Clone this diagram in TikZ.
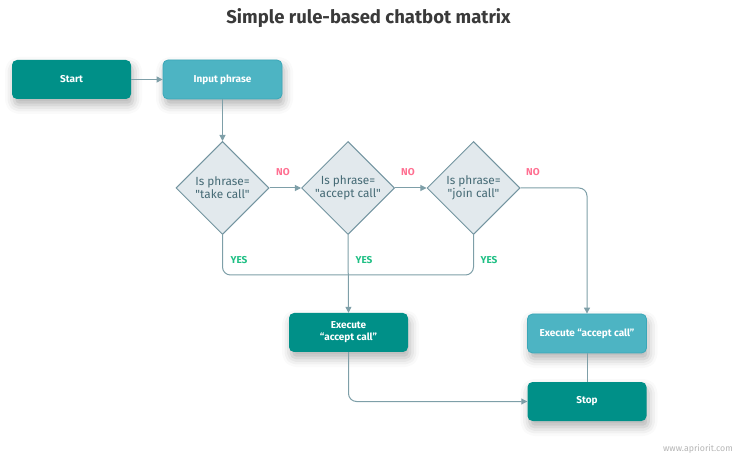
\documentclass[tikz,border=0pt]{standalone}
\usepackage{fontspec}
\setmainfont{Fira Sans}[Ligatures=TeXOff]
\usetikzlibrary{arrows.meta,shapes.geometric,shadows.blur}

\definecolor{tealdark}{HTML}{009088}
\definecolor{teallight}{HTML}{4DB4C3}
\definecolor{teallightedge}{HTML}{3AA7B8}
\definecolor{glow}{HTML}{2C9FB0}
\definecolor{wire}{HTML}{7E9FA8}
\definecolor{decfill}{HTML}{E2E9ED}
\definecolor{decedge}{HTML}{7394A0}
\definecolor{slate}{HTML}{456A75}
\definecolor{nored}{HTML}{FF6F91}
\definecolor{yesgreen}{HTML}{1FBF84}
\definecolor{titlegray}{HTML}{3A3A3A}
\definecolor{footgray}{HTML}{B5B5B5}

\tikzset{
  box/.style={rectangle, rounded corners=5pt, minimum width=119pt, minimum height=39pt,
    inner sep=2pt, align=center, text=white, font=\fontsize{10}{12}\selectfont\bfseries,
    blur shadow={shadow xshift=2pt, shadow yshift=-6pt, shadow blur radius=9pt,
      shadow opacity=30, fill=glow}},
  darkbox/.style={box, fill=tealdark},
  lightbox/.style={box, fill=teallight, draw=teallightedge, line width=0.8pt},
  decision/.style={diamond, aspect=1, minimum width=93pt, minimum height=93pt, inner sep=0pt,
    fill=decfill, draw=decedge, line width=1pt, align=center, text=slate,
    font=\fontsize{11.8}{13}\selectfont},
  wireline/.style={draw=wire, line width=1pt, rounded corners=8pt},
  arrowline/.style={wireline, -{Triangle[length=6pt,width=6pt]}},
  nolab/.style={text=nored, font=\fontsize{10}{12}\selectfont\bfseries},
  yeslab/.style={text=yesgreen, font=\fontsize{10}{12}\selectfont\bfseries},
}

\begin{document}
\begin{tikzpicture}[x=1pt, y=-1pt]
  \useasboundingbox (0,0) rectangle (737,457);

  \node[text=titlegray, font=\fontsize{18.5}{22}\selectfont\bfseries] (title) at (368.5,18) {Simple rule-based chatbot matrix};

  % top row
  \node[darkbox] (start) at (71.5,79.5) {Start};
  \node[lightbox] (input) at (222.5,79.5) {Input phrase};

  % decisions
  \node[decision] (d1) at (222.5,188) {Is phrase=\\"take call"};
  \node[decision] (d2) at (348,188) {Is phrase=\\"accept call"};
  \node[decision] (d3) at (473.5,188) {Is phrase=\\"join call"};

  % actions
  \node[darkbox] (exec1) at (348.5,332.5) {Execute\\“accept call”};
  \node[lightbox] (exec2) at (587,333.5) {Execute “accept call”};
  \node[darkbox] (stop) at (587,401.5) {Stop};

  \coordinate (yesbar) at (348,275);

  % connectors
  \draw[arrowline] (start) -- (input);
  \draw[arrowline] (input) -- (d1);
  \draw[arrowline] (d1) -- (d2);
  \draw[arrowline] (d2) -- (d3);
  \draw[arrowline] (d3.east) -| (exec2.north);
  \draw[wireline] (d1.south) |- (yesbar) -| (d3.south);
  \draw[arrowline] (d2.south) -- (exec1.north);
  \draw[arrowline] (exec1.south) |- (stop.west);
  \draw[wireline] (exec2.south) -- (stop.north);

  % branch labels
  \node[nolab] (no1) at (283,172) {NO};
  \node[nolab] (no2) at (408,172) {NO};
  \node[nolab] (no3) at (533,172) {NO};
  \node[yeslab] (yes1) at (239,260) {YES};
  \node[yeslab] (yes2) at (364,260) {YES};
  \node[yeslab] (yes3) at (489,260) {YES};

  \node[text=footgray, font=\fontsize{8.8}{10}\selectfont] (site) at (698,449) {www.apriorit.com};
\end{tikzpicture}
\end{document}
